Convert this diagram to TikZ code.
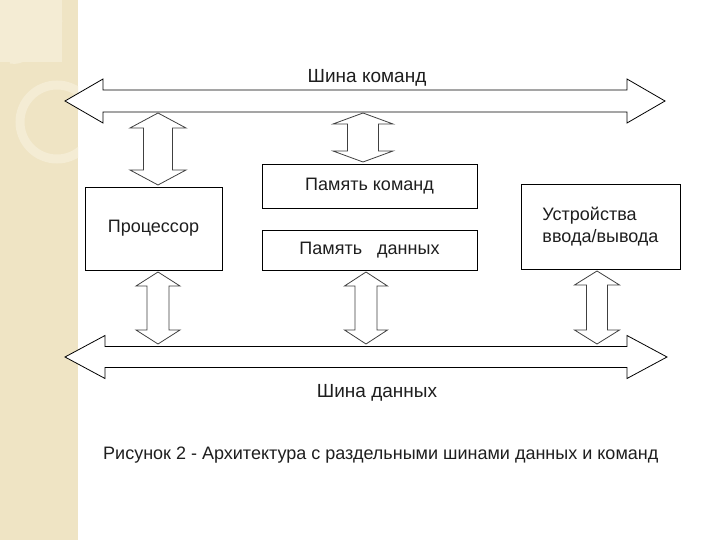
\documentclass[tikz,border=0pt]{standalone}
\usepackage{fontspec}
\setmainfont{Liberation Sans}
\usepackage{tikz}

\definecolor{strip}{RGB}{239,228,196}
\definecolor{stripl}{RGB}{244,236,212}
\definecolor{ink}{RGB}{30,30,30}

% vertical double block arrow: {x}{top}{bottom}{head half}{shaft half}{head length}
\newcommand{\vdarrow}[6]{%
  \draw[blkarrow] (#1,#2) -- (#1+#4,#2+#6) -- (#1+#5,#2+#6) -- (#1+#5,#3-#6)
    -- (#1+#4,#3-#6) -- (#1,#3) -- (#1-#4,#3-#6) -- (#1-#5,#3-#6)
    -- (#1-#5,#2+#6) -- (#1-#4,#2+#6) -- cycle;}
% horizontal double block arrow: {y}{left tip}{right tip}{head half}{shaft half}{head length}
\newcommand{\hdarrow}[6]{%
  \draw[busarrow] (#2,#1) -- (#2+#6,#1-#4) -- (#2+#6,#1-#5) -- (#3-#6,#1-#5)
    -- (#3-#6,#1-#4) -- (#3,#1) -- (#3-#6,#1+#4) -- (#3-#6,#1+#5)
    -- (#2+#6,#1+#5) -- (#2+#6,#1+#4) -- cycle;}

\tikzset{
  blk/.style={draw=black, line width=0.9pt, fill=white, text=ink,
    font=\fontsize{18}{22}\selectfont, inner sep=0pt},
  lbl/.style={text=ink, font=\fontsize{19}{22}\selectfont, inner sep=0pt},
  blkarrow/.style={draw=black!75, line width=0.8pt, fill=white, line join=miter},
  busarrow/.style={draw=black, line width=0.8pt, fill=white, line join=miter}
}

\begin{document}
\begin{tikzpicture}[x=1pt, y=-1pt]
    \useasboundingbox (0,0) rectangle (720,540);
    \fill[white] (0,0) rectangle (720,540);
    % decorative strip
    \fill[strip] (0,0) rectangle (78,540);
    \begin{scope}
      \clip (0,0) rectangle (78,540);
      \fill[stripl] (0,0) rectangle (62,62);
      \draw[stripl, line width=9pt] (57,122) circle (37);
      \draw[stripl, line width=3pt] (10,62) to[out=-10, in=200] (62,20);
    \end{scope}
    % buses
    \hdarrow{101}{65}{665}{22}{11}{38}
    \hdarrow{357}{65}{667}{21.5}{10.5}{40}
    \node[lbl, anchor=base] (cmdbus) at (367,83) {Шина команд};
    \node[lbl, anchor=base] (databus) at (377,397) {Шина данных};
    % blocks
    \node[blk, minimum width=137pt, minimum height=83pt] (cpu) at (153.5,228.5) {Процессор};
    \node[blk, minimum width=215pt, minimum height=44pt] (pmem) at (369.5,186) {Память команд};
    \node[blk, minimum width=215pt, minimum height=40pt] (dmem) at (369.5,250) {Память \ \ данных};
    \node[blk, minimum width=159pt, minimum height=85pt, align=left] (io) at (600.5,226.5)
        {Устройства\\ввода/вывода};
    % links to buses
    \vdarrow{158}{113}{185}{28}{14.5}{15}
    \vdarrow{363}{113}{162}{30}{15.5}{11}
    \vdarrow{158}{272}{344}{22}{11}{14}
    \vdarrow{366}{272}{344}{21.5}{11}{14}
    \vdarrow{597}{271}{344}{22.5}{10.5}{14}
    % caption
    \node[lbl, anchor=base west, font=\fontsize{18}{22}\selectfont] (cap) at (103,459)
        {Рисунок 2 - Архитектура с раздельными шинами данных и команд};
\end{tikzpicture}
\end{document}
